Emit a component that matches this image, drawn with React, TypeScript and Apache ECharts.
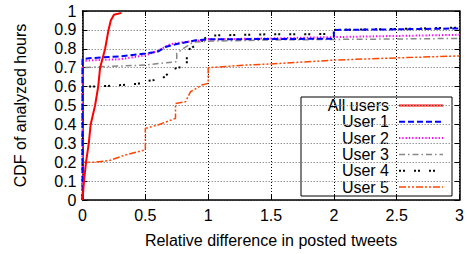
import React, { useEffect, useRef } from "react";
import * as echarts from "echarts";

const xTicks = [0, 0.5, 1, 1.5, 2, 2.5, 3];
const seriesNames = ["All users", "User 1", "User 2", "User 3", "User 4", "User 5"];

const allUsers: [number, number][] = [
  [0, 0], [0.012, 0.1], [0.028, 0.2], [0.05, 0.3], [0.065, 0.4], [0.1, 0.5],
  [0.125, 0.6], [0.14, 0.7], [0.18, 0.8], [0.207, 0.9], [0.225, 0.95],
  [0.25, 0.98], [0.31, 0.99],
];
const user1: [number, number][] = [
  [0, 0], [0, 0.745], [0.05, 0.75], [0.3, 0.76], [0.5, 0.775], [0.6, 0.785],
  [0.66, 0.81], [0.75, 0.825], [0.9, 0.845], [1.0, 0.85], [1.5, 0.852],
  [2.0, 0.853], [2.0, 0.9], [2.5, 0.903], [3, 0.908],
];
const user2: [number, number][] = [
  [0, 0], [0, 0.735], [0.1, 0.74], [0.3, 0.745], [0.5, 0.765], [0.6, 0.79],
  [0.7, 0.825], [0.8, 0.835], [0.95, 0.845], [1.0, 0.85], [1.5, 0.855],
  [2, 0.862], [2.5, 0.868], [3, 0.874],
];
const user3: [number, number][] = [
  [0, 0], [0, 0.7], [0.1, 0.704], [0.5, 0.714], [0.72, 0.73], [0.75, 0.732],
  [0.75, 0.776], [0.8, 0.8], [0.88, 0.835], [1.0, 0.84], [1.5, 0.847],
  [2.5, 0.852], [3, 0.855],
];
const user4: [number, number][] = [
  [0, 0], [0, 0.6], [0.1, 0.6], [0.27, 0.606], [0.44, 0.615], [0.52, 0.63],
  [0.62, 0.638], [0.66, 0.655], [0.71, 0.69], [0.76, 0.7], [0.83, 0.71],
  [0.83, 0.79], [0.93, 0.83], [1.0, 0.87], [1.5, 0.877], [2.0, 0.878],
  [2.0, 0.9], [2.5, 0.905], [3, 0.912],
];
const user5: [number, number][] = [
  [0, 0], [0.005, 0.2], [0.1, 0.2], [0.22, 0.21], [0.34, 0.238], [0.48, 0.262],
  [0.5, 0.264], [0.5, 0.379], [0.6, 0.397], [0.74, 0.432], [0.74, 0.51],
  [0.82, 0.52], [0.86, 0.573], [0.95, 0.608], [1.0, 0.617], [1.0, 0.7],
  [1.3, 0.714], [1.5, 0.72], [2.0, 0.74], [2.5, 0.752], [3, 0.762],
];

const FONT = "Liberation Sans, Arial, Helvetica, sans-serif";

export default function App() {
  const ref = useRef<HTMLDivElement>(null);
  useEffect(() => {
    if (!ref.current) return;
    const chart = echarts.init(ref.current, undefined, { renderer: "svg" });
    const datasets = [allUsers, user1, user2, user3, user4, user5];
    const styles: any[] = [
      { color: "#ff0000", width: 2, type: "solid" },
      { color: "#0000ff", width: 2, type: [6, 3] },
      { color: "#ff00ff", width: 2, type: [1.3, 2] },
      { color: "#888888", width: 1.5, type: [6, 3, 1.5, 3] },
      { color: "#000000", width: 2, type: [2, 2, 2, 9] },
      { color: "#ff4500", width: 1.5, type: [7, 2, 2, 2, 2, 2] },
    ];
    const axisLine = { show: true, onZero: false, lineStyle: { color: "#000", width: 1.5 } };
    const tick = { show: true, inside: true, length: 5, lineStyle: { color: "#000", width: 1 } };

    // Legend box (gnuplot style: right-aligned text, line sample on the right)
    const boxX = 301, boxY = 97, boxW = 151, boxH = 99;
    const rowY0 = 105.5, rowStep = 16.3;
    const textRight = 389, lineX1 = 399, lineX2 = 443;
    const legendChildren: any[] = [
      {
        type: "rect",
        shape: { x: boxX, y: boxY, width: boxW, height: boxH },
        style: { fill: "#fff", stroke: "#000", lineWidth: 1 },
      },
    ];
    seriesNames.forEach((name, i) => {
      const y = rowY0 + i * rowStep;
      legendChildren.push({
        type: "text",
        x: textRight,
        y,
        style: {
          text: name,
          fill: "#000",
          font: `16px ${FONT}`,
          textAlign: "right",
          textVerticalAlign: "middle",
        },
      });
      const st = styles[i];
      legendChildren.push({
        type: "line",
        shape: { x1: lineX1, y1: y, x2: lineX2, y2: y },
        style: {
          stroke: st.color,
          lineWidth: st.width,
          lineDash: Array.isArray(st.type) ? st.type : null,
        },
      });
    });

    chart.setOption({
      animation: false,
      backgroundColor: "#fff",
      grid: { left: 82.5, right: 5, top: 11, bottom: 54, containLabel: false },
      xAxis: [
        {
          type: "value", min: 0, max: 3, interval: 0.5, position: "bottom",
          axisLine, axisTick: tick,
          axisLabel: { color: "#000", fontSize: 16, fontFamily: FONT, margin: 7 },
          splitLine: { show: true, lineStyle: { color: "#000", width: 1, type: [1, 2] } },
          name: "Relative difference in posted tweets", nameLocation: "middle", nameGap: 32,
          nameTextStyle: { color: "#000", fontSize: 16, fontFamily: FONT },
        },
        {
          type: "value", min: 0, max: 3, interval: 0.5, position: "top",
          axisLine, axisTick: tick, axisLabel: { show: false }, splitLine: { show: false },
        },
      ],
      yAxis: [
        {
          type: "value", min: 0, max: 1, interval: 0.1, position: "left",
          axisLine, axisTick: tick,
          axisLabel: { color: "#000", fontSize: 16, fontFamily: FONT, margin: 6 },
          splitLine: { show: true, lineStyle: { color: "#999999", width: 1.2, type: [1.5, 1.5] } },
          name: "CDF of analyzed hours", nameLocation: "middle", nameGap: 54, nameRotate: 90,
          nameTextStyle: { color: "#000", fontSize: 16, fontFamily: FONT },
        },
        {
          type: "value", min: 0, max: 1, interval: 0.1, position: "right",
          axisLine, axisTick: tick, axisLabel: { show: false }, splitLine: { show: false },
        },
      ],
      graphic: [{ type: "group", z: 100, children: legendChildren }],
      series: datasets.map((d, i) => ({
        name: seriesNames[i],
        type: "line",
        xAxisIndex: 0,
        yAxisIndex: 0,
        data: d,
        symbol: "none",
        showSymbol: false,
        lineStyle: styles[i],
        itemStyle: { color: styles[i].color },
        z: 10 - i,
      })),
    });
    return () => chart.dispose();
  }, []);
  return (
    <div
      ref={ref}
      style={{ position: "fixed", left: 0, top: 0, width: 467, height: 254, background: "#fff" }}
    />
  );
}
